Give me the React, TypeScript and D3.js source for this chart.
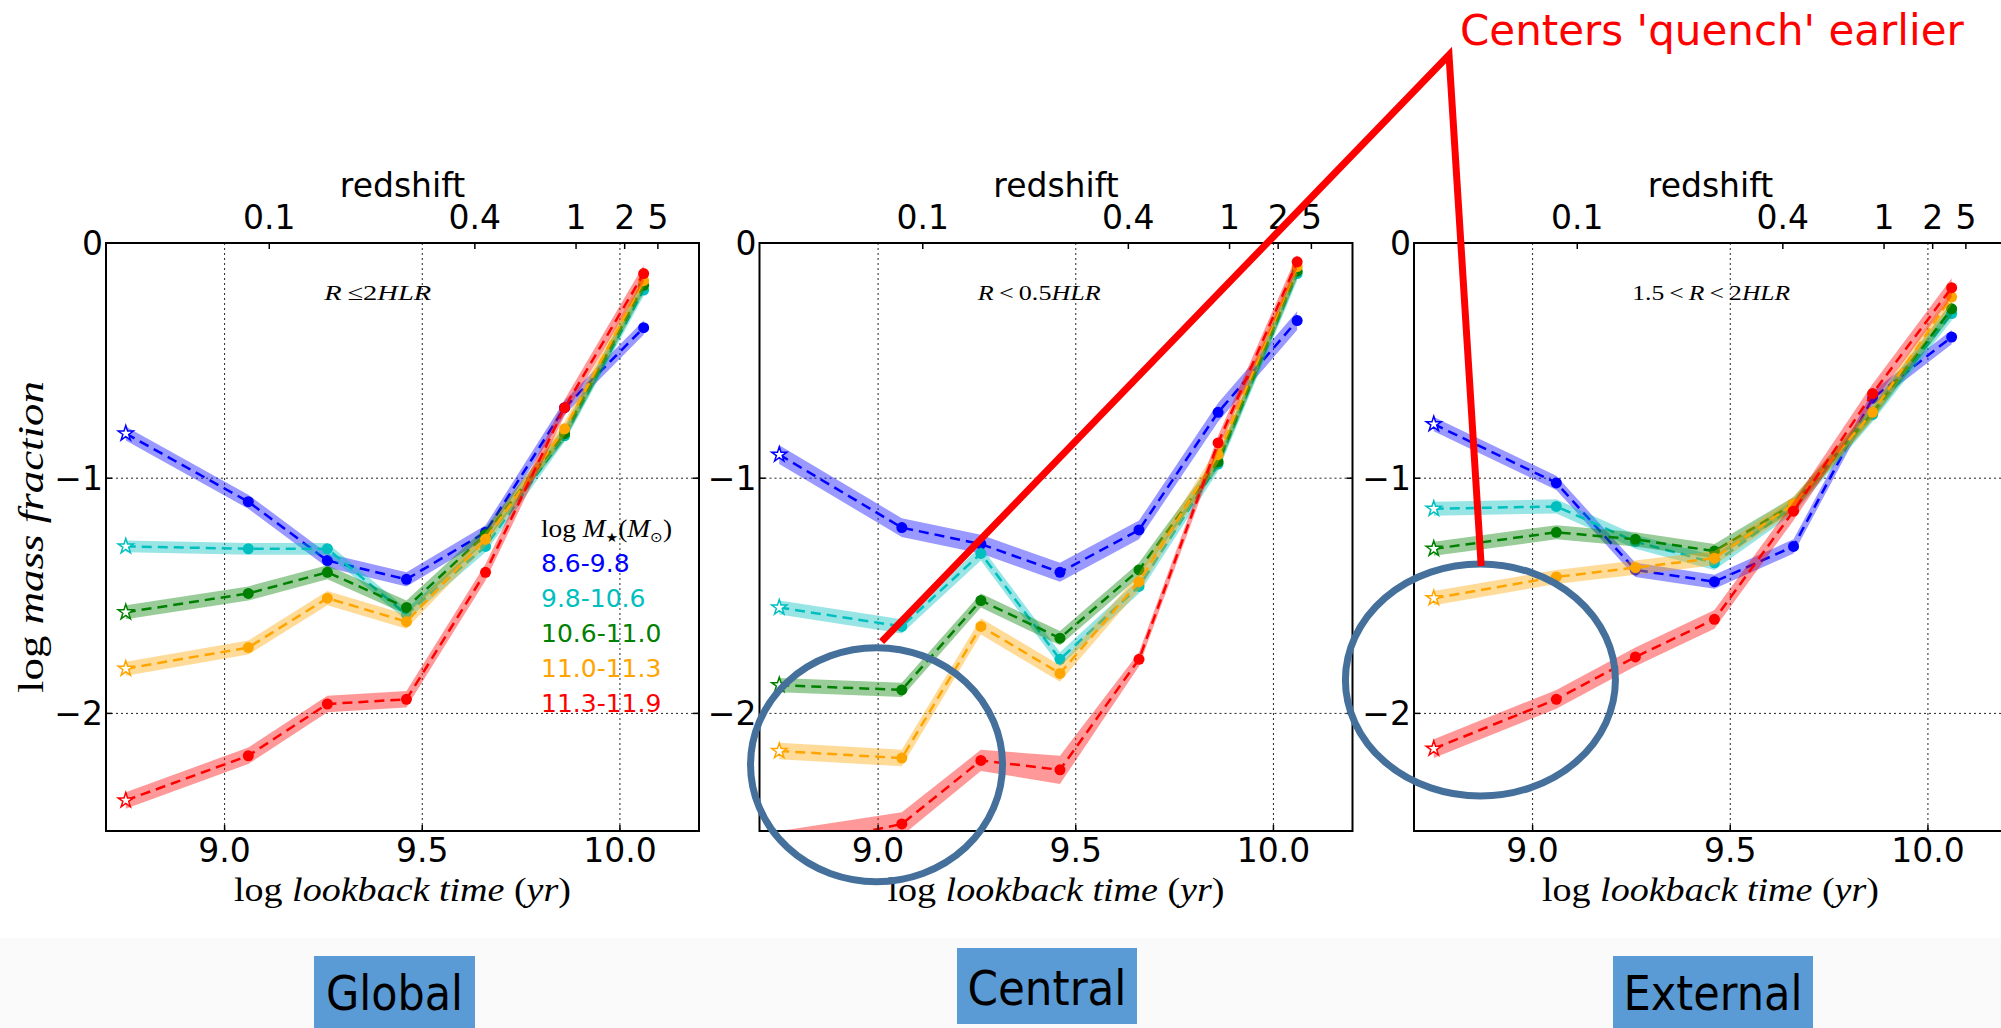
import React from 'react';
import * as d3 from 'd3';

// Lookback-time bins (log yr) of the star-formation histories
const lookbackBins = [8.75, 9.06, 9.26, 9.46, 9.66, 9.86, 10.06];

// Stellar-mass bins, log M*(Msun)
const massBins = ['8.6-9.8', '9.8-10.6', '10.6-11.0', '11.0-11.3', '11.3-11.9'];
const massColors = ['#0000ff', '#00bfbf', '#008000', '#ffa500', '#ff0000'];

// log mass fraction per lookback bin — whole galaxy (R ≤ 2 HLR)
const globalBlue = [-0.81, -1.1, -1.35, -1.43, -1.23, -0.7, -0.36];
const globalCyan = [-1.29, -1.3, -1.3, -1.58, -1.29, -0.82, -0.2];
const globalGreen = [-1.57, -1.49, -1.4, -1.55, -1.24, -0.81, -0.18];
const globalOrange = [-1.81, -1.72, -1.51, -1.61, -1.26, -0.79, -0.16];
const globalRed = [-2.37, -2.18, -1.96, -1.94, -1.4, -0.7, -0.13];

// central region (R < 0.5 HLR)
const centralBlue = [-0.9, -1.21, -1.28, -1.4, -1.22, -0.72, -0.33];
const centralCyan = [-1.55, -1.63, -1.32, -1.77, -1.46, -0.94, -0.13];
const centralGreen = [-1.88, -1.9, -1.52, -1.68, -1.39, -0.93, -0.12];
const centralOrange = [-2.16, -2.19, -1.63, -1.83, -1.44, -0.9, -0.1];
const centralRed = [-2.58, -2.47, -2.2, -2.24, -1.77, -0.85, -0.08];

// outer ring (1.5 < R < 2 HLR)
const externalBlue = [-0.77, -1.02, -1.39, -1.44, -1.29, -0.66, -0.4];
const externalCyan = [-1.13, -1.12, -1.27, -1.36, -1.12, -0.73, -0.3];
const externalGreen = [-1.3, -1.23, -1.26, -1.31, -1.11, -0.72, -0.28];
const externalOrange = [-1.51, -1.42, -1.38, -1.34, -1.11, -0.72, -0.23];
const externalRed = [-2.15, -1.94, -1.76, -1.6, -1.14, -0.64, -0.19];

// half-width of the uncertainty band (dex)
const globalSpread = [0.03, 0.025, 0.03, 0.03, 0.035];
const centralSpread = [0.04, 0.03, 0.03, 0.035, 0.035];
const centralRedSpread = [0.08, 0.05, 0.045, 0.06, 0.03, 0.03, 0.03];
const externalSpread = [0.03, 0.03, 0.03, 0.03, 0.04];

// axes ticks
const xTickValues = [9.0, 9.5, 10.0];
const xTickLabels = ['9.0', '9.5', '10.0'];
const yTickValues = [0, -1, -2];
const yTickLabels = ['0', '\u22121', '\u22122'];
const redshiftLabels = ['0.1', '0.4', '1', '2', '5'];
const redshiftLookback = [9.113, 9.633, 9.889, 10.012, 10.096];

const panelNames = ['Global', 'Central', 'External'];

// layout
const W = 2001;
const H = 1028;
const plotTop = 243;
const plotBottom = 831;
const plotWidth = 593;
const panelLefts = [106, 759.5, 1414];
const xDomain: [number, number] = [8.7, 10.2];
const yDomain: [number, number] = [0, -2.5];

type Part = { t: string; it?: boolean };

const THIN = '\u2009';
const regionTitles: Part[][] = [
  [{ t: 'R', it: true }, { t: THIN + '\u2264' }, { t: '2' }, { t: 'HLR', it: true }],
  [{ t: 'R', it: true }, { t: THIN + '<' + THIN }, { t: '0.5' }, { t: 'HLR', it: true }],
  [
    { t: '1.5' + THIN + '<' + THIN },
    { t: 'R', it: true },
    { t: THIN + '<' + THIN + '2' },
    { t: 'HLR', it: true },
  ],
];
const regionTitleWidths = [107, 123, 158];

const panels = [
  {
    series: [globalBlue, globalCyan, globalGreen, globalOrange, globalRed],
    spread: globalSpread.map((s) => lookbackBins.map(() => s)),
  },
  {
    series: [centralBlue, centralCyan, centralGreen, centralOrange, centralRed],
    spread: centralSpread.map((s, k) => (k === 4 ? centralRedSpread : lookbackBins.map(() => s))),
  },
  {
    series: [externalBlue, externalCyan, externalGreen, externalOrange, externalRed],
    spread: externalSpread.map((s) => lookbackBins.map(() => s)),
  },
];

function starPath(cx: number, cy: number, R: number) {
  const r = R * 0.382;
  const pts: string[] = [];
  for (let i = 0; i < 10; i++) {
    const rad = i % 2 === 0 ? R : r;
    const a = -Math.PI / 2 + (i * Math.PI) / 5;
    pts.push(`${(cx + rad * Math.cos(a)).toFixed(2)},${(cy + rad * Math.sin(a)).toFixed(2)}`);
  }
  return `M${pts.join('L')}Z`;
}

const SANS = "'DejaVu Sans', sans-serif";
const SERIF = "'Liberation Serif', 'DejaVu Serif', serif";
const tickSize = 33;

function Panel({ idx }: { idx: number }) {
  const left = panelLefts[idx];
  const x = d3.scaleLinear().domain(xDomain).range([left, left + plotWidth]);
  const y = d3.scaleLinear().domain(yDomain).range([plotTop, plotBottom]);
  const { series, spread } = panels[idx];
  const clipId = `plot-clip-${idx}`;
  const cx = left + plotWidth / 2;

  const line = d3
    .line<number>()
    .x((_, i) => x(lookbackBins[i]))
    .y((d) => y(d));

  return (
    <g>
      <defs>
        <clipPath id={clipId}>
          <rect x={left} y={plotTop} width={plotWidth} height={plotBottom - plotTop} />
        </clipPath>
      </defs>

      {/* grid */}
      <g stroke="#000" strokeWidth={1} strokeDasharray="2,3" opacity={0.85}>
        {xTickValues.map((v) => (
          <line key={`gx${v}`} x1={x(v)} x2={x(v)} y1={plotTop} y2={plotBottom} />
        ))}
        {yTickValues
          .filter((v) => v !== 0)
          .map((v) => (
            <line key={`gy${v}`} x1={left} x2={left + plotWidth} y1={y(v)} y2={y(v)} />
          ))}
      </g>

      {/* region title */}
      <text
        x={x(9.252)}
        y={300}
        fontFamily={SERIF}
        fontSize={22}
        textLength={regionTitleWidths[idx]}
        lengthAdjust="spacingAndGlyphs"
      >
        {regionTitles[idx].map((p, i) => (
          <tspan key={i} fontStyle={p.it ? 'italic' : 'normal'}>
            {p.t}
          </tspan>
        ))}
      </text>

      {/* series */}
      <g clipPath={`url(#${clipId})`}>
        {series.map((vals, k) => {
          const err = spread[k];
          const area = d3
            .area<number>()
            .x((_, i) => x(lookbackBins[i]))
            .y0((d, i) => y(d - err[i]))
            .y1((d, i) => y(d + err[i]));
          const color = massColors[k];
          return (
            <g key={k}>
              <path d={area(vals) || ''} fill={color} opacity={0.4} stroke="none" />
              <path
                d={line(vals) || ''}
                fill="none"
                stroke={color}
                strokeWidth={2.5}
                strokeDasharray="10,6"
              />
              {vals.map((v, i) =>
                i === 0 ? (
                  <path
                    key={i}
                    d={starPath(x(lookbackBins[i]), y(v), 8)}
                    fill="#fff"
                    stroke={color}
                    strokeWidth={1.5}
                    strokeLinejoin="miter"
                  />
                ) : (
                  <circle key={i} cx={x(lookbackBins[i])} cy={y(v)} r={5.5} fill={color} />
                )
              )}
            </g>
          );
        })}
      </g>

      {/* frame */}
      <rect
        x={left}
        y={plotTop}
        width={plotWidth}
        height={plotBottom - plotTop}
        fill="none"
        stroke="#000"
        strokeWidth={2}
      />

      {/* tick marks */}
      <g stroke="#000" strokeWidth={1.5}>
        {xTickValues.map((v) => (
          <line key={`tx${v}`} x1={x(v)} x2={x(v)} y1={plotBottom} y2={plotBottom - 6} />
        ))}
        {redshiftLookback.map((v) => (
          <line key={`tz${v}`} x1={x(v)} x2={x(v)} y1={plotTop} y2={plotTop + 6} />
        ))}
        {yTickValues.map((v) => (
          <g key={`ty${v}`}>
            <line x1={left} x2={left + 6} y1={y(v)} y2={y(v)} />
            <line x1={left + plotWidth} x2={left + plotWidth - 6} y1={y(v)} y2={y(v)} />
          </g>
        ))}
      </g>

      {/* tick labels */}
      <g fontFamily={SANS} fontSize={tickSize} fill="#000">
        {xTickValues.map((v, i) => (
          <text key={`lx${v}`} x={x(v)} y={862} textAnchor="middle">
            {xTickLabels[i]}
          </text>
        ))}
        {redshiftLookback.map((v, i) => (
          <text key={`lz${v}`} x={x(v)} y={229} textAnchor="middle">
            {redshiftLabels[i]}
          </text>
        ))}
        {yTickValues.map((v, i) => (
          <text key={`ly${v}`} x={left - 3} y={y(v)} dy="0.36em" textAnchor="end">
            {yTickLabels[i]}
          </text>
        ))}
        <text x={cx} y={197} textAnchor="middle">
          redshift
        </text>
      </g>

      {/* axis label */}
      <text
        x={cx}
        y={901}
        textAnchor="middle"
        fontFamily={SERIF}
        fontSize={34}
        textLength={337}
        lengthAdjust="spacingAndGlyphs"
      >
        <tspan>log </tspan>
        <tspan fontStyle="italic">lookback time </tspan>
        <tspan>(</tspan>
        <tspan fontStyle="italic">yr</tspan>
        <tspan>)</tspan>
      </text>
    </g>
  );
}

export default function App() {
  // annotation geometry in the data space of the central / outer panels
  const xC = d3.scaleLinear().domain(xDomain).range([panelLefts[1], panelLefts[1] + plotWidth]);
  const xE = d3.scaleLinear().domain(xDomain).range([panelLefts[2], panelLefts[2] + plotWidth]);
  const yS = d3.scaleLinear().domain(yDomain).range([plotTop, plotBottom]);
  const apex: [number, number] = [1449, 55];
  const arrowPath = d3.line()([
    [xC(9.009), yS(-1.695)],
    apex,
    [xE(8.87), yS(-1.373)],
  ]);

  const legendX = 541;
  const boxes = [
    { x0: 314, x1: 475, y0: 956, y1: 1030, base: 1010, w: 137 },
    { x0: 957, x1: 1137, y0: 948, y1: 1024, base: 1005, w: 159 },
    { x0: 1613, x1: 1813, y0: 956, y1: 1030, base: 1010, w: 179 },
  ];

  return (
    <svg
      width={W}
      height={H}
      viewBox={`0 0 ${W} ${H}`}
      style={{ position: 'absolute', left: 0, top: 0, display: 'block' }}
    >
      <rect width={W} height={H} fill="#fff" />
      <rect x={0} y={938} width={W} height={H - 938} fill="#fafafa" />

      {panels.map((_, i) => (
        <Panel key={i} idx={i} />
      ))}

      {/* y axis label */}
      <text
        transform={`translate(43,537) rotate(-90)`}
        textAnchor="middle"
        fontFamily={SERIF}
        fontSize={35}
        textLength={312}
        lengthAdjust="spacingAndGlyphs"
      >
        <tspan>log </tspan>
        <tspan fontStyle="italic">mass fraction</tspan>
      </text>

      {/* mass-bin legend */}
      <text x={legendX} y={537} fontFamily={SERIF} fontSize={25} textLength={131} lengthAdjust="spacingAndGlyphs">
        <tspan>log </tspan>
        <tspan fontStyle="italic">M</tspan>
        <tspan fontSize={13} dy={5} fontFamily={SANS}>{'\u2605'}</tspan>
        <tspan dy={-5}>(</tspan>
        <tspan fontStyle="italic">M</tspan>
        <tspan fontSize={14} dy={5} fontFamily={SANS}>{'\u2299'}</tspan>
        <tspan dy={-5}>)</tspan>
      </text>
      {massBins.map((m, i) => (
        <text key={m} x={legendX} y={572 + i * 35} fontFamily={SANS} fontSize={25} fill={massColors[i]}>
          {m}
        </text>
      ))}

      {/* highlight circles */}
      <g fill="none" stroke="#44709b" strokeWidth={7}>
        <ellipse cx={xC(8.996)} cy={yS(-2.218)} rx={126} ry={117} />
        <ellipse cx={xE(8.868)} cy={yS(-1.858)} rx={135} ry={116} />
      </g>

      {/* callout */}
      <path d={arrowPath || ''} fill="none" stroke="#ff0000" strokeWidth={7} strokeLinejoin="miter" />
      <text x={1460} y={45} fontFamily={SANS} fontSize={42} fill="#ff0000">
        Centers 'quench' earlier
      </text>

      {/* panel name tags */}
      {boxes.map((b, i) => (
        <g key={panelNames[i]}>
          <rect x={b.x0} y={b.y0} width={b.x1 - b.x0} height={b.y1 - b.y0} fill="#5b9bd5" />
          <text
            x={(b.x0 + b.x1) / 2}
            y={b.base}
            textAnchor="middle"
            fontFamily={SANS}
            fontSize={48}
            textLength={b.w}
            lengthAdjust="spacingAndGlyphs"
            fill="#000"
          >
            {panelNames[i]}
          </text>
        </g>
      ))}
    </svg>
  );
}
